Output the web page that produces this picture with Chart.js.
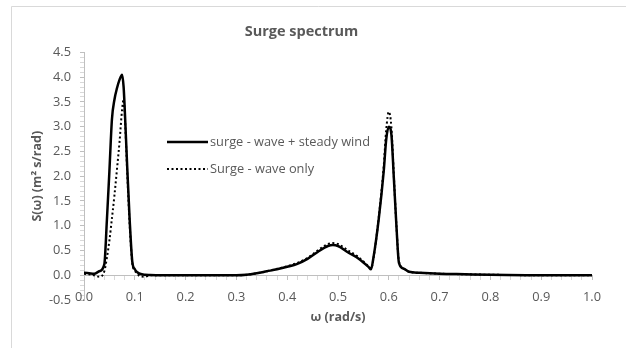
<!DOCTYPE html>
<html>
<head>
<meta charset="utf-8">
<script src="https://cdn.jsdelivr.net/npm/chart.js@4/dist/chart.umd.min.js"></script>
<style>
  body { margin: 0; background: #fff; }
  canvas { display: block; }
</style>
</head>
<body>
<canvas id="surgeChart" width="626" height="348"></canvas>
<script>
// frequency (rad/s)
const omega = [
  0, 0.01, 0.02, 0.03, 0.04, 0.045, 0.05, 0.055, 0.06, 0.065, 0.07, 0.075, 0.078,
  0.08, 0.085, 0.09, 0.095, 0.1, 0.105, 0.11, 0.12, 0.13, 0.15, 0.2, 0.25, 0.3,
  0.32, 0.34, 0.36, 0.38, 0.4, 0.42, 0.44, 0.46, 0.48, 0.49, 0.5, 0.52, 0.54,
  0.56, 0.565, 0.57, 0.58, 0.59, 0.595, 0.6, 0.605, 0.61, 0.615, 0.62, 0.63,
  0.64, 0.66, 0.7, 0.75, 0.8, 0.9, 1.0
];

// S(w) with wave + steady wind
const surgeWind = [
  0.05, 0.04, 0.03, 0.08, 0.22, 1.1, 2.1, 3.15, 3.55, 3.78, 3.95, 4.05, 3.8,
  3.4, 2.2, 1.1, 0.28, 0.12, 0.06, 0.03, 0.01, 0.005, 0, 0, 0, 0,
  0.01, 0.04, 0.08, 0.12, 0.17, 0.23, 0.33, 0.47, 0.59, 0.61, 0.59, 0.46, 0.34,
  0.17, 0.12, 0.37, 1.12, 2.1, 2.75, 3.0, 2.85, 1.95, 1.0, 0.25, 0.13,
  0.07, 0.05, 0.03, 0.02, 0.01, 0, 0
];

// S(w) with waves only
const surgeWave = [
  0.03, 0.02, 0, -0.03, 0.08, 0.35, 0.7, 1.15, 1.62, 2.15, 2.7, 3.35, 3.55,
  3.3, 2.1, 1.0, 0.25, 0.1, 0.03, -0.02, -0.03, 0, 0, 0, 0, 0,
  0.01, 0.04, 0.08, 0.13, 0.18, 0.25, 0.35, 0.5, 0.63, 0.65, 0.63, 0.5, 0.37,
  0.18, 0.13, 0.35, 1.15, 2.2, 2.95, 3.3, 3.0, 2.0, 1.0, 0.28, 0.13,
  0.07, 0.05, 0.03, 0.02, 0.01, 0, 0
];

const seriesNames = ["surge - wave + steady wind", "Surge - wave only"];

const textGrey = "#595959";
const axisGrey = "#bfbfbf";
const fontFamily = "'Open Sans', 'Liberation Sans', sans-serif";

const toPoints = (ys) => omega.map((x, i) => ({ x: x, y: ys[i] }));

// legend drawn inside the plot, stacked on the left
const innerLegend = {
  id: "innerLegend",
  afterDatasetsDraw(chart) {
    const ctx = chart.ctx;
    const rows = [142, 169];
    ctx.save();
    chart.data.datasets.forEach((ds, i) => {
      const y = rows[i];
      ctx.beginPath();
      ctx.strokeStyle = ds.borderColor;
      ctx.lineWidth = ds.borderWidth;
      ctx.setLineDash(ds.borderDash || []);
      ctx.moveTo(167, y);
      ctx.lineTo(208, y);
      ctx.stroke();
      ctx.setLineDash([]);
      ctx.fillStyle = textGrey;
      ctx.font = "12.8px " + fontFamily;
      ctx.textBaseline = "middle";
      ctx.fillText(ds.label, 210, y);
    });
    ctx.restore();
  }
};

// light frame of the chart object (cut off at right and bottom)
const frame = {
  id: "frame",
  beforeDraw(chart) {
    const ctx = chart.ctx;
    ctx.save();
    ctx.fillStyle = "#fff";
    ctx.fillRect(0, 0, chart.width, chart.height);
    ctx.strokeStyle = "#d9d9d9";
    ctx.lineWidth = 1;
    ctx.beginPath();
    ctx.moveTo(11.5, chart.height);
    ctx.lineTo(11.5, 6.5);
    ctx.lineTo(chart.width, 6.5);
    ctx.stroke();
    ctx.restore();
  }
};

const ctx = document.getElementById("surgeChart").getContext("2d");

new Chart(ctx, {
  type: "line",
  data: {
    datasets: [
      {
        label: seriesNames[0],
        data: toPoints(surgeWind),
        borderColor: "#000",
        borderWidth: 2.5,
        pointRadius: 0,
        cubicInterpolationMode: "monotone",
      },
      {
        label: seriesNames[1],
        data: toPoints(surgeWave),
        borderColor: "#000",
        borderWidth: 2,
        borderDash: [2, 2.5],
        pointRadius: 0,
        cubicInterpolationMode: "monotone",
      },
    ],
  },
  options: {
    responsive: false,
    animation: false,
    layout: { padding: { top: 10, left: 11, right: 34, bottom: 48 } },
    plugins: {
      legend: { display: false },
      tooltip: { enabled: false },
      title: {
        display: true,
        text: "Surge spectrum",
        color: textGrey,
        font: { family: fontFamily, size: 14.5, weight: "bold" },
        padding: { top: 13, bottom: 12 },
      },
    },
    scales: {
      x: {
        type: "linear",
        position: { y: 0 },
        min: 0,
        max: 1,
        afterFit(scale) { scale.height = 53; },
        border: { color: axisGrey, width: 1 },
        grid: {
          drawOnChartArea: false,
          tickLength: 4,
          tickColor: (c) => (Math.round(c.tick.value * 100) % 10 === 0 ? axisGrey : "#d9d9d9"),
        },
        ticks: {
          stepSize: 0.02,
          autoSkip: false,
          maxRotation: 0,
          padding: 10,
          color: textGrey,
          font: { family: fontFamily, size: 12.8 },
          callback: (v) => (Math.round(v * 100) % 10 === 0 ? v.toFixed(1) : ""),
        },
        title: {
          display: true,
          text: "ω (rad/s)",
          color: textGrey,
          font: { family: fontFamily, size: 12.5, weight: "bold" },
          padding: { top: 0, bottom: 3 },
        },
      },
      y: {
        min: -0.5,
        max: 4.5,
        afterFit(scale) { scale.width = 73; },
        border: { color: axisGrey, width: 1 },
        grid: {
          drawOnChartArea: false,
          tickLength: 4,
          tickColor: (c) => (Math.round(c.tick.value * 10) % 5 === 0 ? axisGrey : "#d9d9d9"),
        },
        ticks: {
          stepSize: 0.1,
          autoSkip: false,
          padding: 9,
          color: textGrey,
          font: { family: fontFamily, size: 12.8 },
          callback: (v) => (Math.round(v * 10) % 5 === 0 ? v.toFixed(1) : ""),
        },
        title: {
          display: true,
          text: "S(ω) (m² s/rad)",
          color: textGrey,
          font: { family: fontFamily, size: 12.5, weight: "bold" },
          padding: { top: 19, bottom: 0 },
        },
      },
    },
  },
  plugins: [frame, innerLegend],
});
</script>
</body>
</html>
